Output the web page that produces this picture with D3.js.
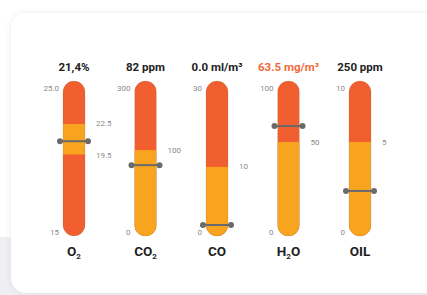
<!DOCTYPE html>
<html>
<head>
<meta charset="utf-8">
<script src="https://cdn.jsdelivr.net/npm/d3@7"></script>
<style>
html,body{margin:0;padding:0;background:#ffffff;}
svg{display:block;font-family:Roboto, "Noto Sans", sans-serif;}
</style>
</head>
<body>
<script>
// ---- data ----
const nameSubs   = [["O","2"], ["CO","2"], ["CO",""], ["H","2","O"], ["OIL",""]];
const headers    = ["21,4%", "82 ppm", "0.0 ml/m³", "63.5 mg/m³", "250 ppm"];
const headerHot  = [false, false, false, true, false];
const mins       = [15, 0, 0, 0, 0];
const maxs       = [25, 300, 30, 100, 10];
const minLabels  = ["15", "0", "0", "0", "0"];
const maxLabels  = ["25.0", "300", "30", "100", "10"];
const bandLow    = [20.3, 0, 0, 0, 0];          // amber band, in each gauge's units
const bandHigh   = [22.6, 169, 13.1, 62.4, 6.24];
const bandHighLabels = ["22.5", "100", "10", "50", "5"];
const bandLowLabels  = ["19.5", null, null, null, null];
const markers    = [21.3, 135, 0, 74.4, 2.56];

// ---- layout ----
const W = 427, H = 295;
const tubeW = 22, tubeTop = 81, tubeBottom = 236, r = tubeW / 2;
const RED = "#F15E2F", AMBER = "#F8A41F", MARK = "#6a6a6a";

const svg = d3.select("body").append("svg").attr("width", W).attr("height", H);
const defs = svg.append("defs");
const f = defs.append("filter").attr("id","sh").attr("x","-10%").attr("y","-10%").attr("width","120%").attr("height","120%");
f.append("feDropShadow").attr("dx",0).attr("dy",0).attr("stdDeviation",3).attr("flood-color","#000").attr("flood-opacity",0.08);

// background
svg.append("rect").attr("x",0).attr("y",0).attr("width",W).attr("height",H).attr("fill","#ffffff");
svg.append("rect").attr("x",0).attr("y",237).attr("width",W).attr("height",H-237).attr("fill","#eef0f3");
// card
svg.append("rect").attr("x",11).attr("y",13).attr("width",W+10).attr("height",280)
  .attr("rx",15).attr("fill","#fff").attr("filter","url(#sh)");

const xPos = d3.scalePoint().domain(d3.range(nameSubs.length)).range([74, 360]);

nameSubs.forEach((parts, i) => {
  const cx = xPos(i), x0 = cx - r;
  const y = d3.scaleLinear().domain([mins[i], maxs[i]]).range([tubeBottom - r, tubeTop + r]);
  const g = svg.append("g");
  const clipId = "clip" + i;
  defs.append("clipPath").attr("id", clipId).append("rect")
    .attr("x", x0).attr("y", tubeTop).attr("width", tubeW).attr("height", tubeBottom - tubeTop).attr("rx", r);

  const tg = g.append("g").attr("clip-path", `url(#${clipId})`);
  tg.append("rect").attr("x", x0).attr("y", tubeTop).attr("width", tubeW).attr("height", tubeBottom - tubeTop).attr("fill", RED);
  const bTop = y(bandHigh[i]);
  const bBot = bandLow[i] <= mins[i] ? tubeBottom : y(bandLow[i]);
  tg.append("rect").attr("x", x0).attr("y", bTop).attr("width", tubeW).attr("height", bBot - bTop).attr("fill", AMBER);
  g.append("rect").attr("x", x0).attr("y", tubeTop).attr("width", tubeW).attr("height", tubeBottom - tubeTop).attr("rx", r)
    .attr("fill","none").attr("stroke","rgba(120,90,60,0.2)").attr("stroke-width",0.8);

  // tick labels
  const tick = (txt, tx, ty, anchor) => g.append("text").attr("x", tx).attr("y", ty)
    .attr("text-anchor", anchor).attr("dominant-baseline","central")
    .attr("font-size", 8).attr("fill", "#8a8a8a").text(txt);
  tick(maxLabels[i], x0 - 4, tubeTop + 7, "end");
  tick(minLabels[i], x0 - 4, tubeBottom - 4, "end");
  tick(bandHighLabels[i], x0 + tubeW + 11, bTop, "start");
  if (bandLowLabels[i]) tick(bandLowLabels[i], x0 + tubeW + 11, bBot + 1, "start");

  // marker
  const my = y(markers[i]);
  g.append("line").attr("x1", x0 - 3).attr("x2", x0 + tubeW + 3).attr("y1", my).attr("y2", my)
    .attr("stroke", MARK).attr("stroke-width", 2);
  [x0 - 3, x0 + tubeW + 3].forEach(px => g.append("circle").attr("cx", px).attr("cy", my).attr("r", 3).attr("fill", MARK));

  // header
  g.append("text").attr("x", cx).attr("y", 71).attr("text-anchor","middle")
    .attr("font-size", 11.5).attr("font-weight", 700)
    .attr("fill", headerHot[i] ? "#F26A3C" : "#222").text(headers[i]);

  // bottom name with subscripts
  const t = g.append("text").attr("x", cx).attr("y", 256).attr("text-anchor","middle")
    .attr("font-size", 13.5).attr("font-weight", 700).attr("fill", "#1e1e1e");
  t.append("tspan").text(parts[0]);
  if (parts[1]) t.append("tspan").attr("font-size", 8).attr("dy", 3).text(parts[1]);
  if (parts[2]) t.append("tspan").attr("dy", -3).text(parts[2]);
});
</script>
</body>
</html>
